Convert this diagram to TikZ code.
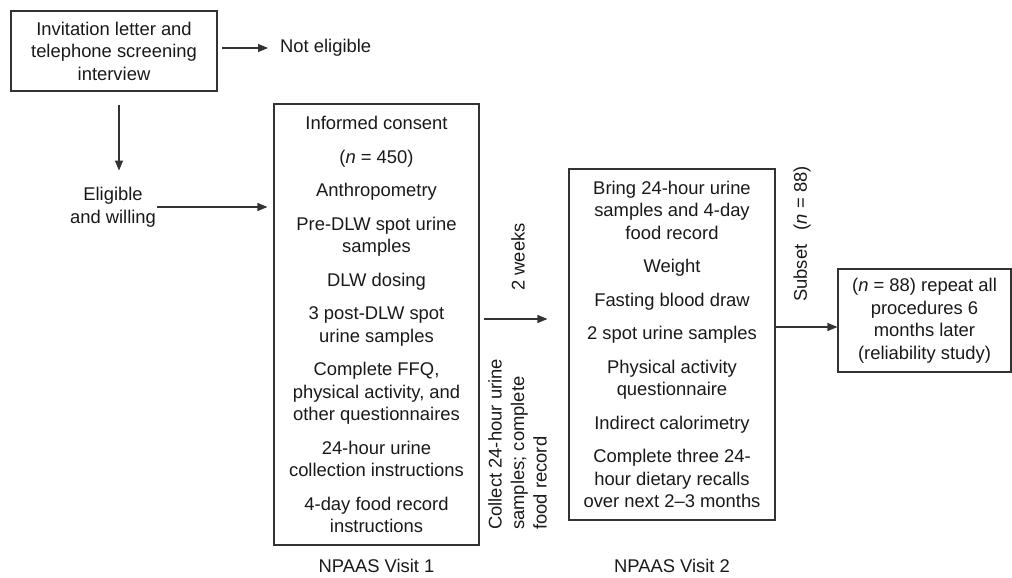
\documentclass[tikz,border=0pt]{standalone}
\usepackage{fontspec}
\setmainfont{Liberation Sans}
\usetikzlibrary{arrows.meta,calc}
\newcommand\mainfs{\fontsize{18.4pt}{22.5pt}\selectfont}
\begin{document}
\begin{tikzpicture}[x=1pt,y=-1pt,
  box/.style={draw=black!80, line width=1.1pt, align=center, inner sep=0pt, font=\mainfs, text=black!90},
  lbl/.style={align=center, inner sep=0pt, font=\mainfs, text=black!90},
  arr/.style={draw=black!80, line width=1.1pt, -{Triangle[length=10pt,width=8pt]}}]
\useasboundingbox (0,0) rectangle (1012,578);
\node[box, minimum width=206pt, minimum height=80pt] (b1) at (114,51)
  {Invitation letter and\\ telephone screening\\ interview};
\node[lbl, anchor=west] (ne) at (280,48) {Not eligible};
\node[lbl] (el) at (113,207) {Eligible\\ and willing};
\node[box, minimum width=205pt, minimum height=441pt] (b2) at (376.5,324.5)
  {Informed consent\\[11pt]
   (\textit{n} = 450)\\[11pt]
   Anthropometry\\[11pt]
   Pre-DLW spot urine\\ samples\\[11pt]
   DLW dosing\\[11pt]
   3 post-DLW spot\\ urine samples\\[11pt]
   Complete FFQ,\\ physical activity, and\\ other questionnaires\\[11pt]
   24-hour urine\\ collection instructions\\[11pt]
   4-day food record\\ instructions};
\node[box, minimum width=206pt, minimum height=351pt] (b3) at (672,344.5)
  {Bring 24-hour urine\\ samples and 4-day\\ food record\\[11pt]
   Weight\\[11pt]
   Fasting blood draw\\[11pt]
   2 spot urine samples\\[11pt]
   Physical activity\\ questionnaire\\[11pt]
   Indirect calorimetry\\[11pt]
   Complete three 24-\\ hour dietary recalls\\ over next 2–3 months};
\node[box, minimum width=173pt, minimum height=103pt] (b4) at (924.5,320.5)
  {(\textit{n} = 88) repeat all\\ procedures 6\\ months later\\ (reliability study)};
\node[lbl, rotate=90] (tw) at (518,257) {2 weeks};
\node[lbl, rotate=90, align=left, anchor=north west] (col) at (488,530)
  {Collect 24-hour urine\\ samples; complete\\ food record};
\node[lbl, rotate=90] (sub) at (802,234) {Subset\hspace{0.5em} (\textit{n} = 88)};
\node[lbl] (v1) at (376.5,566) {NPAAS Visit 1};
\node[lbl] (v2) at (672,566) {NPAAS Visit 2};
\draw[arr] ($(ne.west)+(-58,0)$) -- ($(ne.west)+(-12,0)$);
\draw[arr] ($(b1.south)+(5,13)$) -- ($(b1.south)+(5,79)$);
\draw[arr] ($(el.east)+(1,0)$) -- ($(b2.west |- el.east)+(-6,0)$);
\draw[arr] ($(b2.east)+(4,-5.5)$) -- ($(b3.west |- b2.east)+(-21,-5.5)$);
\draw[arr] ($(b3.east)+(0,-17.5)$) -- ($(b4.west |- b3.east)+(0,-17.5)$);
\end{tikzpicture}
\end{document}
